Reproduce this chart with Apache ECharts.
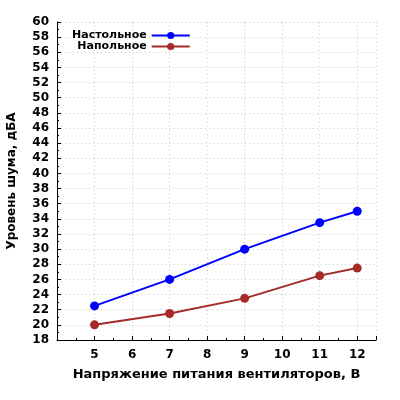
<!DOCTYPE html>
<html><head><meta charset="utf-8">
<script src="https://cdn.jsdelivr.net/npm/echarts@6/dist/echarts.min.js"></script>
<style>html,body{margin:0;padding:0;background:#fff}#c{width:400px;height:400px}</style>
</head><body><div id="c"></div>
<script>
const voltages = [5, 7, 9, 11, 12];
const deskNoise = [22.5, 26, 30, 33.5, 35];
const floorNoise = [20, 21.5, 23.5, 26.5, 27.5];
const seriesNames = ['Настольное', 'Напольное'];
const xTitle = 'Напряжение питания вентиляторов, В';
const yTitle = 'Уровень шума, дБА';

const font = 'DejaVu Sans';
const chart = echarts.init(document.getElementById('c'), null, {renderer: 'canvas'});
const pair = (xs, ys) => xs.map((x, i) => [x, ys[i]]);
chart.setOption({
  animation: false,
  backgroundColor: '#fff',
  grid: {left: 57, right: 24, top: 22, bottom: 60, outerBoundsMode: 'none', containLabel: false},
  legend: {
    orient: 'vertical', left: 67, top: 25, align: 'right',
    itemWidth: 38, itemHeight: 9, itemGap: 0,
    textStyle: {fontFamily: font, fontWeight: 'bold', fontSize: 11, color: '#000', padding: [0, 0, 0, 0]},
    data: seriesNames
  },
  xAxis: {
    type: 'value', min: 4, max: 12.5, interval: 1,
    name: xTitle, nameLocation: 'middle', nameGap: 28,
    nameTextStyle: {fontFamily: font, fontWeight: 'bold', fontSize: 13, color: '#000'},
    axisLine: {lineStyle: {color: '#000', width: 1}},
    axisTick: {inside: true, length: 4, lineStyle: {color: '#000'}},
    minorTick: {show: true, splitNumber: 2, length: 2, lineStyle: {color: '#000'}},
    axisLabel: {fontFamily: font, fontWeight: 'bold', fontSize: 12, color: '#000', margin: 9,
      formatter: v => (v < 5 || v > 12) ? '' : String(v)},
    splitLine: {show: true, lineStyle: {color: '#c8c8c8', type: [1, 3]}}
  },
  yAxis: {
    type: 'value', min: 18, max: 60, interval: 2,
    name: yTitle, nameLocation: 'middle', nameGap: 39,
    nameTextStyle: {fontFamily: font, fontWeight: 'bold', fontSize: 12, color: '#000'},
    axisLine: {show: true, lineStyle: {color: '#000', width: 1}},
    axisTick: {show: true, inside: true, length: 4, lineStyle: {color: '#000'}},
    minorTick: {show: true, splitNumber: 2, length: 2, lineStyle: {color: '#000'}},
    axisLabel: {fontFamily: font, fontWeight: 'bold', fontSize: 12, color: '#000', margin: 8},
    splitLine: {show: true, lineStyle: {color: '#c8c8c8', type: [1, 3]}}
  },
  series: [
    {name: seriesNames[0], type: 'line', data: pair(voltages, deskNoise), color: '#0000ff',
      symbol: 'circle', symbolSize: 9, lineStyle: {width: 2}},
    {name: seriesNames[1], type: 'line', data: pair(voltages, floorNoise), color: '#a52a2a',
      symbol: 'circle', symbolSize: 9, lineStyle: {width: 2}}
  ]
});
</script></body></html>
